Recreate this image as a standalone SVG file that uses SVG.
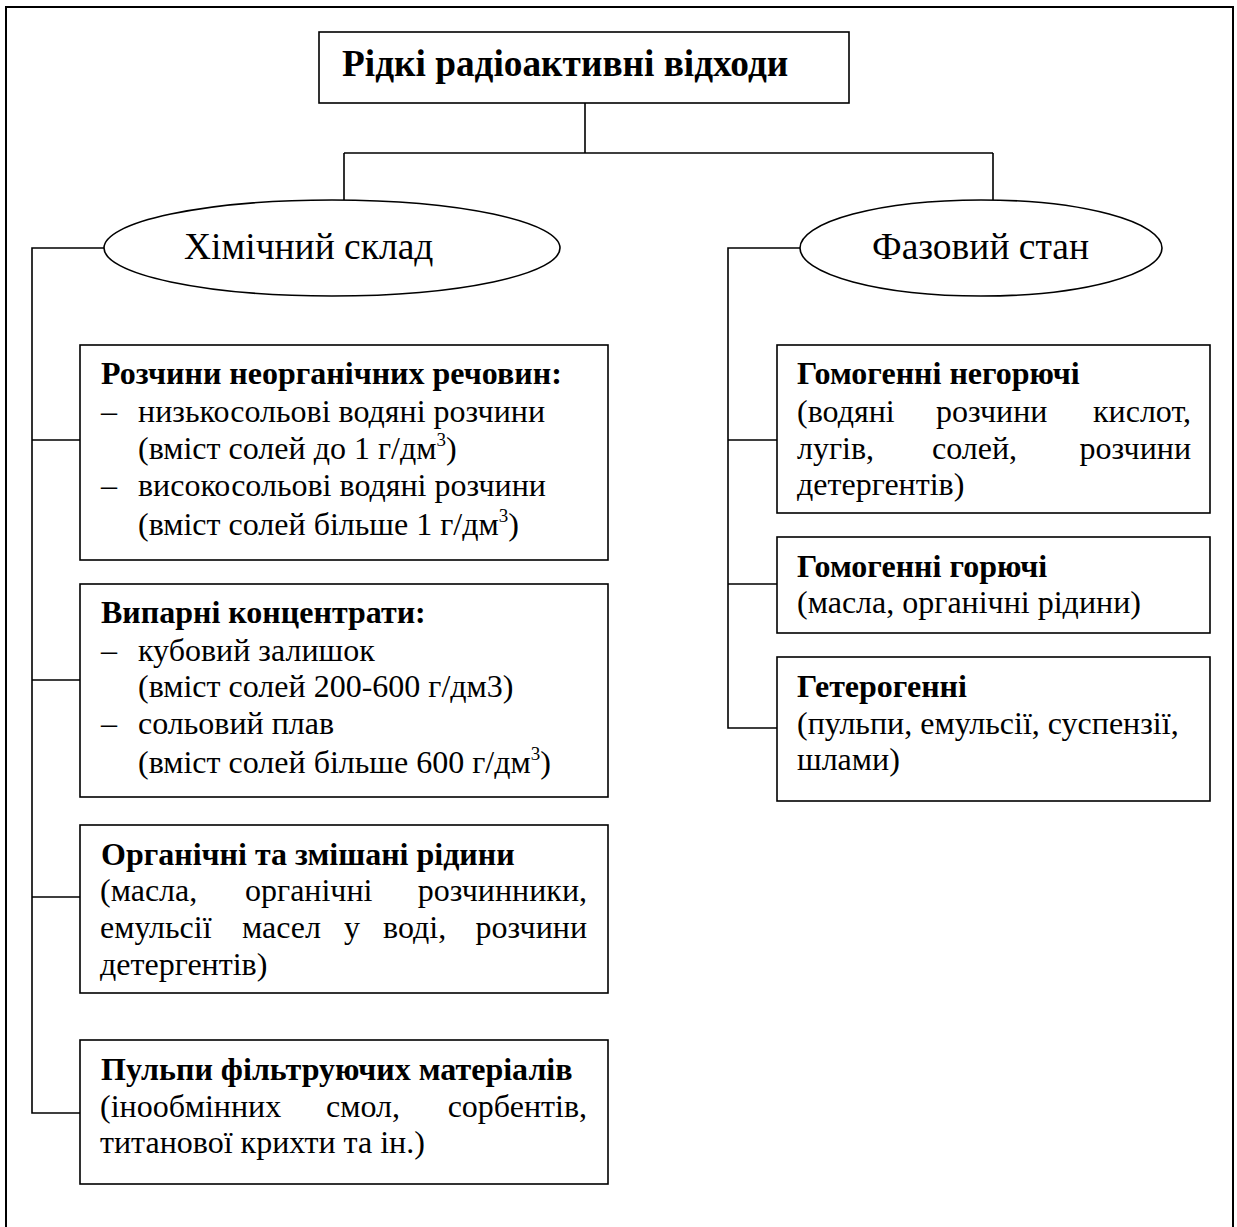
<svg xmlns="http://www.w3.org/2000/svg" width="1237" height="1227" viewBox="0 0 1237 1227">
<style>
text{font-family:"Liberation Serif","Times New Roman",serif;fill:#000}
.t{font-size:37.3px;font-weight:bold}
.e{font-size:37.5px}
.b{font-size:32px;font-weight:bold}
.r{font-size:32px}
.box{fill:#fff;stroke:#000;stroke-width:1.6}
.ln{fill:none;stroke:#000;stroke-width:1.6}
.sup{font-size:19px}
</style>
<rect x="6" y="7" width="1227" height="1240" fill="#fff" stroke="#000" stroke-width="2"/>
<g id="connectors" class="ln">
<path d="M585,103 V153 M344,153 H993 M344,153 V200 M993,153 V200"/>
<path d="M104,248 H32 V1113 H80 M32,440 H80 M32,680 H80 M32,897 H80"/>
<path d="M800,248 H728 V728 H777 M728,440 H777 M728,584 H777"/>
</g>
<g id="root">
<rect class="box" x="319" y="32" width="530" height="71"/>
<text class="t" x="342" y="76">Рідкі радіоактивні відходи</text>
</g>
<g id="chem">
<ellipse class="box" cx="332" cy="248" rx="228" ry="48"/>
<text class="e" x="184" y="259">Хімічний склад</text>
</g>
<g id="phase">
<ellipse class="box" cx="981" cy="248" rx="181" ry="48"/>
<text class="e" x="872" y="259">Фазовий стан</text>
</g>
<g id="box1">
<rect class="box" x="80" y="345" width="528" height="215"/>
<text class="b" x="101" y="384">Розчини неорганічних речовин:</text>
<text class="r" x="101" y="422">–</text>
<text class="r" x="138" y="422">низькосольові водяні розчини</text>
<text class="r" x="138" y="459">(вміст солей до 1 г/дм<tspan class="sup" dy="-13">3</tspan><tspan dy="13">)</tspan></text>
<text class="r" x="101" y="496">–</text>
<text class="r" x="138" y="496">високосольові водяні розчини</text>
<text class="r" x="138" y="535">(вміст солей більше 1 г/дм<tspan class="sup" dy="-13">3</tspan><tspan dy="13">)</tspan></text>
</g>
<g id="box2">
<rect class="box" x="80" y="584" width="528" height="213"/>
<text class="b" x="101" y="623">Випарні концентрати:</text>
<text class="r" x="101" y="661">–</text>
<text class="r" x="138" y="661">кубовий залишок</text>
<text class="r" x="138" y="697">(вміст солей 200-600 г/дм3)</text>
<text class="r" x="101" y="734">–</text>
<text class="r" x="138" y="734">сольовий плав</text>
<text class="r" x="138" y="773">(вміст солей більше 600 г/дм<tspan class="sup" dy="-13">3</tspan><tspan dy="13">)</tspan></text>
</g>
<g id="box3">
<rect class="box" x="80" y="825" width="528" height="168"/>
<text class="b" x="101" y="865">Органічні та змішані рідини</text>
<text class="r" x="100" y="901">(масла,</text>
<text class="r" x="245" y="901">органічні</text>
<text class="r" x="587" y="901" text-anchor="end">розчинники,</text>
<text class="r" x="100" y="938">емульсії</text>
<text class="r" x="242" y="938">масел</text>
<text class="r" x="344" y="938">у</text>
<text class="r" x="383" y="938">воді,</text>
<text class="r" x="587" y="938" text-anchor="end">розчини</text>
<text class="r" x="100" y="975">детергентів)</text>
</g>
<g id="box4">
<rect class="box" x="80" y="1040" width="528" height="144"/>
<text class="b" x="101" y="1080">Пульпи фільтруючих матеріалів</text>
<text class="r" x="100" y="1117">(інообмінних</text>
<text class="r" x="326" y="1117">смол,</text>
<text class="r" x="587" y="1117" text-anchor="end">сорбентів,</text>
<text class="r" x="100" y="1153">титанової крихти та ін.)</text>
</g>
<g id="boxA">
<rect class="box" x="777" y="345" width="433" height="168"/>
<text class="b" x="797" y="384">Гомогенні негорючі</text>
<text class="r" x="797" y="422">(водяні</text>
<text class="r" x="936" y="422">розчини</text>
<text class="r" x="1191" y="422" text-anchor="end">кислот,</text>
<text class="r" x="797" y="459">лугів,</text>
<text class="r" x="932" y="459">солей,</text>
<text class="r" x="1191" y="459" text-anchor="end">розчини</text>
<text class="r" x="797" y="495">детергентів)</text>
</g>
<g id="boxB">
<rect class="box" x="777" y="537" width="433" height="96"/>
<text class="b" x="797" y="577">Гомогенні горючі</text>
<text class="r" x="797" y="613">(масла, органічні рідини)</text>
</g>
<g id="boxC">
<rect class="box" x="777" y="657" width="433" height="144"/>
<text class="b" x="797" y="697">Гетерогенні</text>
<text class="r" x="797" y="734">(пульпи, емульсії, суспензії,</text>
<text class="r" x="797" y="770">шлами)</text>
</g>
</svg>
